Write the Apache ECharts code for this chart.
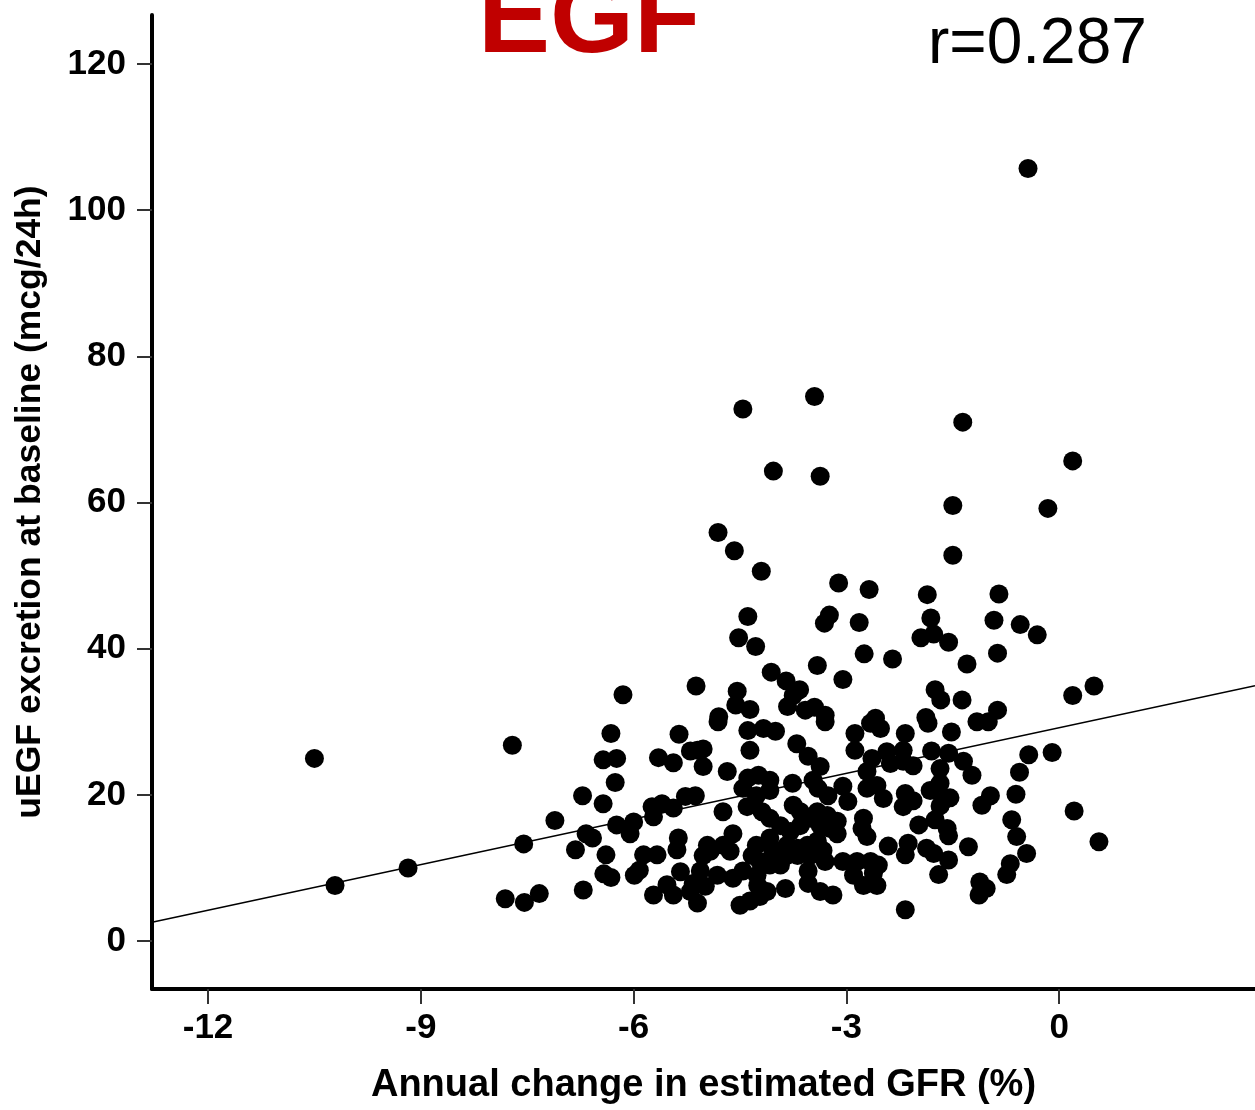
<!DOCTYPE html>
<html>
<head>
<meta charset="utf-8">
<script src="https://cdn.jsdelivr.net/npm/echarts@6/dist/echarts.min.js"></script>
<style>
html,body{margin:0;padding:0;background:#fff;}
#chart{width:1255px;height:1110px;}
</style>
</head>
<body>
<div id="chart"></div>
<script>
// ---- data ----
const chartTitle = 'EGF';
const corrText = 'r=0.287';
const xAxisTitle = 'Annual change in estimated GFR (%)';
const yAxisTitle = 'uEGF excretion at baseline (mcg/24h)';
const xTicks = [-12, -9, -6, -3, 0];
const yTicks = [0, 20, 40, 60, 80, 100, 120];
const xRange = [-12.79, 2.76];
const yRange = [-6.55, 126.7];
const fitSlope = 2.081;
const fitIntercept = 29.2;

const gfrChange = [
-0.44,-10.50,-10.21,-9.18,-7.71,
-4.46,-3.45,-1.36,-4.03,-3.37,0.19,-1.50,-0.16,
-4.81,-4.58,-4.20,-3.11,-2.68,-4.39,-3.24,-3.31,-2.82,-4.52,-4.28,-2.75,-2.35,-3.41,-3.05,-4.06,-3.85,-3.66,-5.12,-4.54,-4.56,-4.36,-3.83,-3.75,-3.45,-3.58,-4.80,-2.59,-3.30,
-1.50,-1.86,-0.85,-1.81,-0.92,-0.55,-0.31,-1.95,-1.77,-1.56,-0.87,-1.30,-1.75,-1.67,-1.37,0.19,0.49,-1.88,-0.87,
-6.15,
-6.32,-5.36,-6.43,-6.24,-5.65,-5.44,-5.20,-6.26,-6.72,-6.43,-7.11,-7.55,-6.67,-6.58,-6.24,-6.00,-6.05,-5.74,-5.60,-5.72,-5.44,-5.27,-6.82,-6.39,-6.42,-6.32,-5.99,-5.92,-5.86,-5.67,-5.37,-5.39,-5.34,-5.53,-5.72,-5.44,-5.20,-6.71,-7.81,-7.54,-7.33,
-1.85,-1.52,-1.16,-1.00,-2.17,-1.80,-1.56,-1.35,-1.23,-1.68,-0.43,-0.10,-0.56,-0.97,-1.09,-0.61,-1.54,-1.68,0.21,-0.67,-0.60,0.56,-0.46,-0.69,-0.74,-1.28,-1.56,-1.70,-1.12,-1.03,-1.13,-1.98,-1.75,-1.58,-1.56,-2.13,-1.87,-2.17,-1.77,-2.17,-2.17,-2.06,-2.20,-1.82,-1.68,-1.64,-2.20,-2.20,-2.06,
-4.81,-4.39,-4.17,-4.00,-3.30,-3.70,-4.36,-5.02,-5.10,-5.02,-4.68,-3.54,-3.37,-2.88,-2.66,-2.52,-2.88,-2.64,-2.43,-2.38,-2.71,-2.71,-2.57,-2.48,-4.39,-4.24,-4.08,-4.46,-4.27,-4.08,-3.76,-3.47,-3.40,-3.26,-3.05,-2.98,-5.13,-4.74,-4.40,-4.19,-4.08,-3.75,-3.65,-3.93,-3.79,-3.65,-3.51,-3.41,-3.27,-3.13,-3.23,-3.37,-2.76,-2.71,-2.78,-3.13,-4.60,-4.74,-4.64,-4.96,-5.02,-4.92,-4.27,-4.08,-4.04,-3.84,-3.69,-3.55,-3.41,-3.33,-3.51,-3.69,-3.84,-2.41,-4.33,-4.22,-4.08,-3.93,-3.30,-3.05,-2.85,-2.66,-2.55,-5.06,-4.82,-4.60,-4.46,-5.16,-4.99,-4.26,-4.25,-3.54,-3.54,-3.37,-3.19,-2.90,-2.76,-2.62,-2.57,-3.86,-4.50,-4.36,-4.22,-4.12,-5.10
];
const uegf = [
105.7,25.0,7.6,10.0,26.8,
72.8,74.5,71.0,64.3,63.6,65.7,59.6,59.2,
55.9,53.4,50.6,49.0,48.1,44.4,44.6,43.5,43.6,41.5,40.3,39.3,38.6,37.7,35.8,36.8,35.6,34.4,34.9,34.2,32.3,31.7,32.1,33.6,32.0,31.6,30.7,30.5,30.9,
52.8,47.4,47.5,44.2,43.9,43.3,41.9,41.5,42.0,40.9,39.4,37.9,34.4,33.0,33.0,33.6,34.9,30.6,31.6,
33.7,
28.4,28.3,24.8,25.0,25.1,24.4,26.0,21.7,19.9,18.8,16.5,13.3,14.7,14.1,15.9,16.3,14.7,18.4,18.8,17.0,18.2,19.8,12.5,11.8,9.2,8.7,9.0,9.7,11.8,11.8,14.1,12.5,9.5,7.7,6.3,6.3,6.8,7.0,5.8,5.3,6.5,
29.8,28.6,30.0,30.0,28.4,26.0,25.7,24.6,22.7,23.6,25.5,25.8,23.1,19.9,18.6,20.1,19.6,18.5,17.8,16.6,14.3,13.6,12.0,10.6,9.1,12.9,11.1,9.1,8.1,7.2,6.3,15.9,16.6,15.4,14.4,13.4,12.7,11.8,12.0,4.3,20.2,19.2,18.4,20.6,21.6,19.2,26.1,24.6,24.0,
30.0,28.8,29.1,28.7,30.0,27.0,26.1,26.3,26.1,23.9,23.2,25.3,23.9,28.4,29.8,29.1,26.1,25.0,25.9,24.3,23.2,20.9,21.3,19.5,22.3,22.7,22.0,20.9,19.9,20.6,21.6,22.0,20.9,19.9,21.2,19.1,19.9,17.7,18.4,17.7,16.8,18.6,17.7,15.8,15.0,15.8,16.8,17.7,17.2,16.4,15.4,15.8,16.8,14.3,15.4,14.7,14.7,13.1,12.3,13.1,11.7,12.3,13.1,14.1,12.4,13.1,12.7,13.1,13.7,12.4,11.7,11.7,11.7,13.0,11.7,10.9,10.4,10.4,10.9,10.9,10.9,10.9,10.4,9.6,9.0,8.6,9.6,7.9,7.5,9.0,7.6,9.6,7.9,6.8,6.3,9.0,7.6,9.3,7.6,7.2,4.9,5.5,6.1,6.8,5.2
];

// ---- build ----
const points = gfrChange.map((x, i) => [x, uegf[i]]);
const fitData = xRange.map(x => [x, fitIntercept + fitSlope * x]);
const FONT = '"Liberation Sans", Arial, sans-serif';

const chart = echarts.init(document.getElementById('chart'), null, {renderer: 'canvas'});
chart.setOption({
  animation: false,
  backgroundColor: '#fff',
  grid: {left: 152, right: 0, top: 15, bottom: 119, containLabel: false},
  xAxis: {
    type: 'value', min: xRange[0], max: xRange[1],
    splitLine: {show: false},
    axisLine: {show: true, onZero: false, lineStyle: {color: '#000', width: 4}},
    axisTick: {show: true, customValues: xTicks, length: 15, lineStyle: {color: '#333', width: 2}},
    axisLabel: {show: true, customValues: xTicks, margin: 22, color: '#000', fontSize: 35, fontWeight: 'bold', fontFamily: FONT},
    name: xAxisTitle, nameLocation: 'middle', nameGap: 78,
    nameTextStyle: {color: '#000', fontSize: 38, fontWeight: 'bold', fontFamily: FONT}
  },
  yAxis: {
    type: 'value', min: yRange[0], max: yRange[1],
    splitLine: {show: false},
    axisLine: {show: true, onZero: false, lineStyle: {color: '#000', width: 4}},
    axisTick: {show: true, customValues: yTicks, length: 15, lineStyle: {color: '#333', width: 2}},
    axisLabel: {show: true, customValues: yTicks, margin: 26, color: '#000', fontSize: 35, fontWeight: 'bold', fontFamily: FONT},
    name: yAxisTitle, nameLocation: 'middle', nameGap: 104,
    nameTextStyle: {color: '#000', fontSize: 35.5, fontWeight: 'bold', fontFamily: FONT}
  },
  graphic: [
    {type: 'text', x: 589, y: 76, z: 10,
     style: {text: chartTitle, fill: '#c00000', font: 'bold 108px ' + FONT, align: 'center', verticalAlign: 'bottom'}},
    {type: 'text', x: 928, y: 77, z: 10,
     style: {text: corrText, fill: '#000', font: '64px ' + FONT, align: 'left', verticalAlign: 'bottom'}}
  ],
  series: [
    {type: 'scatter', data: points, symbol: 'circle', symbolSize: 19,
     itemStyle: {color: '#000', opacity: 1}, z: 2},
    {type: 'line', data: fitData, symbol: 'none', silent: true,
     lineStyle: {color: '#000', width: 1.5}, z: 3}
  ]
});
</script>
</body>
</html>
